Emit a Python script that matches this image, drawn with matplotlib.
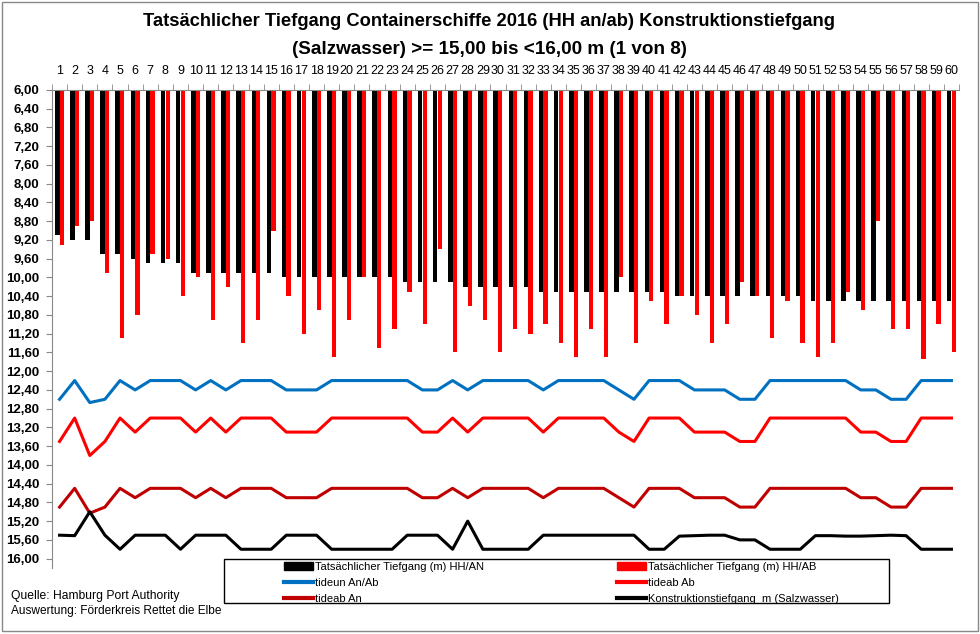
"""
Tatsaechlicher Tiefgang Containerschiffe 2016 - Balken (an/ab) und Tide-Linien.
"""
from matplotlib import pyplot as plt
from matplotlib import font_manager
from matplotlib.patches import Rectangle
from matplotlib.lines import Line2D
from matplotlib.ticker import FuncFormatter, FixedLocator
import numpy as np

NAMES = {f.name for f in font_manager.fontManager.ttflist}
FONT = 'Liberation Sans Narrow' if 'Liberation Sans Narrow' in NAMES else 'Liberation Sans'
plt.rcParams['font.family'] = FONT

SHIPS = list(range(1, 61))

TIEFGANG_AN = [9.10, 9.20, 9.20, 9.50, 9.50, 9.60, 9.70, 9.70, 9.70, 9.90,
               9.90, 9.90, 9.90, 9.90, 9.90, 10.00, 10.00, 10.00, 10.00, 10.00,
               10.00, 10.00, 10.00, 10.10, 10.10, 10.10, 10.10, 10.20, 10.20, 10.20,
               10.20, 10.20, 10.30, 10.30, 10.30, 10.30, 10.30, 10.30, 10.30, 10.30,
               10.30, 10.40, 10.40, 10.40, 10.40, 10.40, 10.40, 10.40, 10.40, 10.40,
               10.50, 10.50, 10.50, 10.50, 10.50, 10.50, 10.50, 10.50, 10.50, 10.50]

TIEFGANG_AB = [9.30, 8.90, 8.80, 9.90, 11.30, 10.80, 9.50, 9.60, 10.40, 10.00,
               10.90, 10.20, 11.40, 10.90, 9.00, 10.40, 11.20, 10.70, 11.70, 10.90,
               10.00, 11.50, 11.10, 10.30, 11.00, 9.40, 11.60, 10.60, 10.90, 11.60,
               11.10, 11.20, 11.00, 11.40, 11.70, 11.10, 11.70, 10.00, 11.40, 10.50,
               11.00, 10.40, 10.80, 11.40, 11.00, 10.10, 10.40, 11.30, 10.50, 11.40,
               11.70, 11.40, 10.30, 10.70, 8.80, 11.10, 11.10, 11.75, 11.00, 11.60]

TIDEUN = [12.60, 12.20, 12.67, 12.60, 12.20, 12.40, 12.20, 12.20, 12.20, 12.40,
          12.20, 12.40, 12.20, 12.20, 12.20, 12.40, 12.40, 12.40, 12.20, 12.20,
          12.20, 12.20, 12.20, 12.20, 12.40, 12.40, 12.20, 12.40, 12.20, 12.20,
          12.20, 12.20, 12.40, 12.20, 12.20, 12.20, 12.20, 12.40, 12.60, 12.20,
          12.20, 12.20, 12.40, 12.40, 12.40, 12.60, 12.60, 12.20, 12.20, 12.20,
          12.20, 12.20, 12.20, 12.40, 12.40, 12.60, 12.60, 12.20, 12.20, 12.20]

TIDEAB_AB = [13.50, 13.00, 13.80, 13.50, 13.00, 13.30, 13.00, 13.00, 13.00, 13.30,
             13.00, 13.30, 13.00, 13.00, 13.00, 13.30, 13.30, 13.30, 13.00, 13.00,
             13.00, 13.00, 13.00, 13.00, 13.30, 13.30, 13.00, 13.30, 13.00, 13.00,
             13.00, 13.00, 13.30, 13.00, 13.00, 13.00, 13.00, 13.30, 13.50, 13.00,
             13.00, 13.00, 13.30, 13.30, 13.30, 13.50, 13.50, 13.00, 13.00, 13.00,
             13.00, 13.00, 13.00, 13.30, 13.30, 13.50, 13.50, 13.00, 13.00, 13.00]

TIDEAB_AN = [14.90, 14.50, 15.03, 14.90, 14.50, 14.70, 14.50, 14.50, 14.50, 14.70,
             14.50, 14.70, 14.50, 14.50, 14.50, 14.70, 14.70, 14.70, 14.50, 14.50,
             14.50, 14.50, 14.50, 14.50, 14.70, 14.70, 14.50, 14.70, 14.50, 14.50,
             14.50, 14.50, 14.70, 14.50, 14.50, 14.50, 14.50, 14.70, 14.90, 14.50,
             14.50, 14.50, 14.70, 14.70, 14.70, 14.90, 14.90, 14.50, 14.50, 14.50,
             14.50, 14.50, 14.50, 14.70, 14.70, 14.90, 14.90, 14.50, 14.50, 14.50]

KONSTRUKTION = [15.50, 15.51, 15.00, 15.50, 15.80, 15.50, 15.50, 15.50, 15.80, 15.50,
                15.50, 15.50, 15.80, 15.80, 15.80, 15.50, 15.50, 15.50, 15.80, 15.80,
                15.80, 15.80, 15.80, 15.50, 15.50, 15.50, 15.80, 15.20, 15.80, 15.80,
                15.80, 15.80, 15.50, 15.50, 15.50, 15.50, 15.50, 15.50, 15.50, 15.80,
                15.80, 15.52, 15.51, 15.50, 15.50, 15.60, 15.60, 15.80, 15.80, 15.80,
                15.51, 15.51, 15.52, 15.52, 15.51, 15.50, 15.51, 15.80, 15.80, 15.80]

BASE = 6.00
W, H = 980, 634

if __name__ == "__main__":
    fig = plt.figure(figsize=(W / 100, H / 100), dpi=100)
    ax = fig.add_axes([52 / W, 1 - 568 / H, (959 - 52) / W, (568 - 90) / H])

    x = np.array(SHIPS)
    an = np.array(TIEFGANG_AN)
    ab = np.array(TIEFGANG_AB)
    ax.bar(x - 0.15, an - BASE, bottom=BASE, width=0.30, color='black', zorder=2)
    ax.bar(x + 0.15, ab - BASE, bottom=BASE, width=0.28, color='#FF0000', zorder=2)

    lw = 2.2
    ax.plot(x, TIDEUN, color='#0070C0', lw=lw, zorder=3)
    ax.plot(x, TIDEAB_AB, color='#FF0000', lw=lw, zorder=3)
    ax.plot(x, TIDEAB_AN, color='#C00000', lw=lw, zorder=3)
    ax.plot(x, KONSTRUKTION, color='black', lw=lw, zorder=3)

    ax.set_xlim(0.5, 60.5)
    ax.set_ylim(16.2, 6.0)

    yt = [6.0 + 0.4 * i for i in range(26)]
    ax.set_yticks(yt)
    ax.yaxis.set_major_formatter(FuncFormatter(lambda v, p: f"{v:.2f}".replace('.', ',')))
    for lab in ax.get_yticklabels():
        lab.set_fontweight('bold')
    ax.tick_params(axis='y', labelsize=9.5, length=4, color='#888888', pad=5)

    ax.xaxis.tick_top()
    ax.set_xticks(SHIPS)
    ax.set_xticklabels([str(s) for s in SHIPS])
    ax.xaxis.set_minor_locator(FixedLocator(np.arange(0.5, 61, 1)))
    ax.tick_params(axis='x', which='major', length=0, labelsize=9, pad=9)
    ax.tick_params(axis='x', which='minor', length=4, color='#888888')

    for side in ('right', 'bottom'):
        ax.spines[side].set_visible(False)
    for side in ('left', 'top'):
        ax.spines[side].set_color('#888888')

    fig.text(489 / W, 1 - 22 / H, "Tatsächlicher Tiefgang Containerschiffe 2016 (HH an/ab) Konstruktionstiefgang",
             ha='center', va='center', fontsize=13.2, fontweight='bold')
    fig.text(489 / W, 1 - 50 / H, "(Salzwasser) >= 15,00 bis <16,00 m (1 von 8)",
             ha='center', va='center', fontsize=13.6, fontweight='bold')

    fig.text(11 / W, 1 - 596 / H, "Quelle: Hamburg Port Authority", ha='left', va='center', fontsize=8.7)
    fig.text(11 / W, 1 - 611 / H, "Auswertung: Förderkreis Rettet die Elbe", ha='left', va='center', fontsize=8.6)

    # legend frame + two columns
    fig.patches.append(Rectangle((224 / W, 1 - 602.5 / H), (889 - 224) / W, (602.5 - 559) / H,
                                 transform=fig.transFigure, fill=False, edgecolor='black', lw=1))
    col1 = [Rectangle((0, 0), 1, 1, color='black'),
            Line2D([], [], color='#0070C0', lw=3),
            Line2D([], [], color='#C00000', lw=3)]
    lab1 = ["Tatsächlicher Tiefgang (m) HH/AN", "tideun An/Ab", "tideab An"]
    col2 = [Rectangle((0, 0), 1, 1, color='#FF0000'),
            Line2D([], [], color='#FF0000', lw=3),
            Line2D([], [], color='black', lw=3)]
    lab2 = ["Tatsächlicher Tiefgang (m) HH/AB", "tideab Ab", "Konstruktionstiefgang  m (Salzwasser)"]
    for handles, labels, x0 in ((col1, lab1, 283), (col2, lab2, 616)):
        fig.legend(handles, labels, loc='upper left', bbox_to_anchor=(x0 / W, 1 - 560.5 / H),
                   frameon=False, fontsize=8, handlelength=2.6, handleheight=0.75,
                   handletextpad=0.15, labelspacing=0.55, borderpad=0.1, borderaxespad=0)

    fig.patches.append(Rectangle((2 / W, 1 - 631 / H), 976 / W, 629 / H,
                                 transform=fig.transFigure, fill=False, edgecolor='#888888', lw=1))

    fig.savefig("out.png", dpi=100)
